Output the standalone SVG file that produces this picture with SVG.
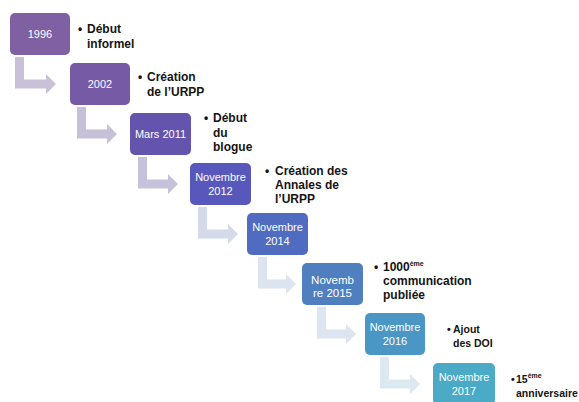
<svg xmlns="http://www.w3.org/2000/svg" width="579" height="402" viewBox="0 0 579 402">
  <style>
    .box text { font-family: "Liberation Sans", Arial, sans-serif; font-size: 11px; fill: #ffffff; text-anchor: middle; }
    .note { font-family: "Liberation Sans", Arial, sans-serif; font-size: 12px; font-weight: bold; fill: #141414; }
    .note.small { font-size: 10.5px; }
    .sup { font-size: 7px; }
  </style>
  <rect width="579" height="402" fill="#ffffff"/>

  <!-- bent connectors between consecutive steps -->
  <g id="connectors">
    <path fill="#c9c1d8" d="M15 57 H24 V79.5 H46 V74 L56 84 L46 94 V88.5 H15 Z"/>
    <path fill="#c7c0d9" d="M77 107 H86 V129.5 H107 V124 L117 134 L107 144 V138.5 H77 Z"/>
    <path fill="#c6c2dc" d="M138 157 H147 V179.5 H168 V174 L178 184 L168 194 V188.5 H138 Z"/>
    <path fill="#d3dbeb" d="M198 207 H207 V229.5 H228 V224 L238 234 L228 244 V238.5 H198 Z"/>
    <path fill="#dce4ef" d="M258 257 H267 V279.5 H286 V274 L296 284 L286 294 V288.5 H258 Z"/>
    <path fill="#dde6f0" d="M317 307 H326 V329.5 H346 V324 L356 334 L346 344 V338.5 H317 Z"/>
    <path fill="#dde9f0" d="M380 357 H389 V379.5 H410 V374 L420 384 L410 394 V388.5 H380 Z"/>
  </g>

  <g id="step-1996" class="box">
    <rect x="10" y="13" width="60" height="42" rx="5" fill="#7f60a2"/>
    <text x="40" y="38">1996</text>
  </g>
  <g id="step-2002" class="box">
    <rect x="70" y="63" width="60" height="42" rx="5" fill="#765aa6"/>
    <text x="100" y="88">2002</text>
  </g>
  <g id="step-2011" class="box">
    <rect x="130" y="113" width="61" height="42" rx="5" fill="#6554ae"/>
    <text x="160.5" y="138">Mars 2011</text>
  </g>
  <g id="step-2012" class="box">
    <rect x="190" y="163" width="61" height="42" rx="5" fill="#5858bc"/>
    <text x="220.5" y="181">Novembre</text>
    <text x="220.5" y="195">2012</text>
  </g>
  <g id="step-2014" class="box">
    <rect x="247" y="213" width="61" height="42" rx="5" fill="#506cc0"/>
    <text x="277.5" y="231">Novembre</text>
    <text x="277.5" y="245">2014</text>
  </g>
  <g id="step-2015" class="box">
    <rect x="302" y="263" width="61" height="42" rx="5" fill="#4f7fbe"/>
    <text x="332.5" y="284" style="font-size:11.5px">Novemb</text>
    <text x="332.5" y="297" style="font-size:11.5px">re 2015</text>
  </g>
  <g id="step-2016" class="box">
    <rect x="365" y="313" width="60" height="42" rx="5" fill="#4a96c4"/>
    <text x="395" y="331">Novembre</text>
    <text x="395" y="345">2016</text>
  </g>
  <g id="step-2017" class="box">
    <rect x="433" y="363" width="62" height="42" rx="5" fill="#4baac6"/>
    <text x="464" y="381">Novembre</text>
    <text x="464" y="395">2017</text>
  </g>

  <!-- milestone descriptions -->
  <g id="note-1996" class="note">
    <text x="78" y="33">•</text>
    <text x="87" y="33">Début</text>
    <text x="87" y="47.5">informel</text>
  </g>
  <g id="note-2002" class="note">
    <text x="138" y="81">•</text>
    <text x="147" y="81">Création</text>
    <text x="147" y="95.5">de l’URPP</text>
  </g>
  <g id="note-2011" class="note">
    <text x="204" y="122">•</text>
    <text x="213" y="122">Début</text>
    <text x="213" y="136.5">du</text>
    <text x="213" y="151">blogue</text>
  </g>
  <g id="note-2012" class="note">
    <text x="265" y="175">•</text>
    <text x="275" y="175">Création des</text>
    <text x="275" y="189">Annales de</text>
    <text x="275" y="203">l’URPP</text>
  </g>
  <g id="note-2015" class="note">
    <text x="374" y="271">•</text>
    <text x="383" y="271">1000<tspan class="sup" dy="-5">ème</tspan></text>
    <text x="383" y="285">communication</text>
    <text x="383" y="299">publiée</text>
  </g>
  <g id="note-2016" class="note small">
    <text x="447" y="333">•</text>
    <text x="453" y="333">Ajout</text>
    <text x="453" y="347">des DOI</text>
  </g>
  <g id="note-2017" class="note small">
    <text x="511" y="383">•</text>
    <text x="516" y="383">15<tspan class="sup" dy="-5">ème</tspan></text>
    <text x="516" y="397">anniversaire</text>
  </g>
</svg>
